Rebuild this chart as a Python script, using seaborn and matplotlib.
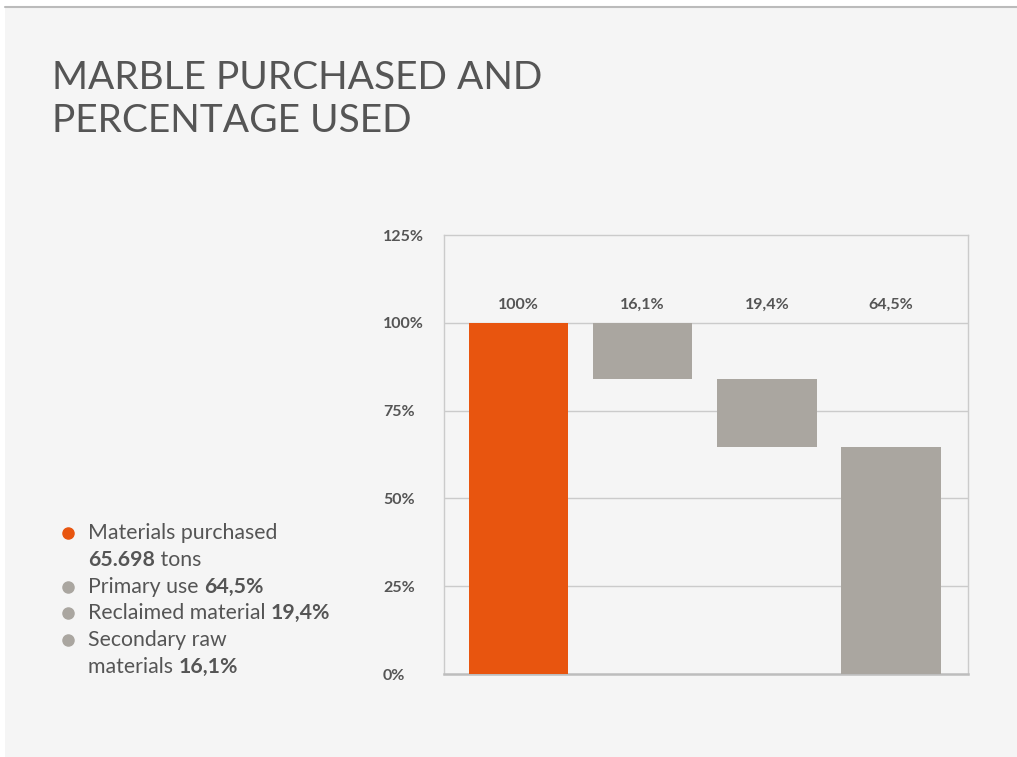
import matplotlib
matplotlib.use("Agg")
import matplotlib.pyplot as plt
from matplotlib.patches import Rectangle
from matplotlib.lines import Line2D
import numpy as np
import pandas as pd
import seaborn as sns

# Waterfall steps: purchased total, then the three shares carved out of it
steps = ["Materials purchased", "Secondary raw materials", "Reclaimed material", "Primary use"]
step_values = [100.0, 16.1, 19.4, 64.5]
step_labels = ["100%", "16,1%", "19,4%", "64,5%"]
y_ticks = [0, 25, 50, 75, 100, 125]
y_tick_labels = ["0%", "25%", "50%", "75%", "100%", "125%"]

title_lines = ["MARBLE PURCHASED AND", "PERCENTAGE USED"]

# (regular part, bold part, bullet?) per legend row
legend_lines = [
    ("Materials purchased", "", True),
    ("", "65.698", False),
    ("Primary use ", "64,5%", True),
    ("Reclaimed material ", "19,4%", True),
    ("Secondary raw", "", True),
    ("materials ", "16,1%", False),
]
legend_after = {1: " tons"}

ORANGE = "#E8550F"
GREY_BAR = "#AAA6A0"
TEXT = "#555555"
GRID = "#CBCBCB"
PANEL = "#F5F5F5"

sns.set_theme(style="white")
FONT = ["Lato", "DejaVu Sans"]
plt.rcParams["font.family"] = FONT

fig = plt.figure(figsize=(10.17, 7.57), dpi=100, facecolor="white")
W, H = 1017, 757

# background panel and its top rule
fig.patches.append(Rectangle((5 / W, 0), 1 - 5 / W, 1 - 8 / H, transform=fig.transFigure,
                             facecolor=PANEL, edgecolor="none", zorder=-2))
fig.lines.append(Line2D([5 / W, 1], [1 - 7 / H, 1 - 7 / H], transform=fig.transFigure,
                        color="#BBBBBB", linewidth=1.5, zorder=-1))

ax = fig.add_axes([444 / W, 1 - 674 / H, 524 / W, (674 - 235) / H])
ax.set_facecolor("none")

# bottoms of each floating bar
bottoms = []
level = step_values[0]
for i, v in enumerate(step_values):
    if i == 0 or i == len(step_values) - 1:
        bottoms.append(0.0)
    else:
        level -= v
        bottoms.append(level)
bottoms = np.array(bottoms)

df = pd.DataFrame({"step": steps, "value": step_values})
sns.barplot(data=df, x="step", y="value", order=steps, color=GREY_BAR, width=0.8,
            bottom=bottoms, saturation=1, ax=ax, zorder=3, linewidth=0)
ax.patches[0].set_facecolor(ORANGE)

ax.set_xlim(-0.6, 3.62)
ax.set_ylim(0, 125)
ax.set_xlabel("")
ax.set_ylabel("")
ax.set_xticks([])
ax.set_yticks(y_ticks)
ax.set_yticklabels(y_tick_labels)
for t in ax.get_yticklabels():
    t.set_horizontalalignment("left")
    t.set_fontweight("bold")
    t.set_color(TEXT)
    t.set_fontsize(11.5)
ax.tick_params(axis="y", length=0, pad=44)
for y in y_ticks[1:-1]:
    ax.axhline(y, color=GRID, linewidth=1.0, zorder=1)
for s in ["top", "left", "right"]:
    ax.spines[s].set_color(GRID)
    ax.spines[s].set_linewidth(1.0)
ax.spines["bottom"].set_color("#BDBDBD")
ax.spines["bottom"].set_linewidth(1.8)

for i, lab in enumerate(step_labels):
    ax.text(i, 104, lab, ha="center", va="baseline", fontsize=11.5, fontweight="bold",
            color=TEXT)

# title, one line at a time
for line, yp in zip(title_lines, [78, 121]):
    fig.text(52 / W, 1 - yp / H, line, ha="left", va="center", fontsize=28, color=TEXT)

# legend with bullet dots and mixed-weight text
dot_x = 68 / W
text_x = 88 / W
ys = [533, 560, 587, 613, 640, 667]
FS = 15.3
for i, ((normal, bold, dot), yp) in enumerate(zip(legend_lines, ys)):
    yf = 1 - yp / H
    if dot:
        c = ORANGE if i == 0 else GREY_BAR
        fig.lines.append(Line2D([dot_x], [yf], transform=fig.transFigure, marker="o",
                                markersize=8, color=c, linestyle="none"))
    if normal:
        t = fig.text(text_x, yf, normal, ha="left", va="center", fontsize=FS, color=TEXT)
        if bold:
            fig.add_artist(matplotlib.text.Annotation(
                bold, xy=(1, 0), xycoords=t, ha="left", va="bottom",
                fontsize=FS, color=TEXT, fontweight="bold"))
    else:
        t = fig.text(text_x, yf, bold, ha="left", va="center", fontsize=FS, color=TEXT,
                     fontweight="bold")
        fig.add_artist(matplotlib.text.Annotation(
            legend_after[i], xy=(1, 0), xycoords=t, ha="left", va="bottom",
            fontsize=FS, color=TEXT))

fig.savefig("out.png", dpi=100, facecolor="white")
